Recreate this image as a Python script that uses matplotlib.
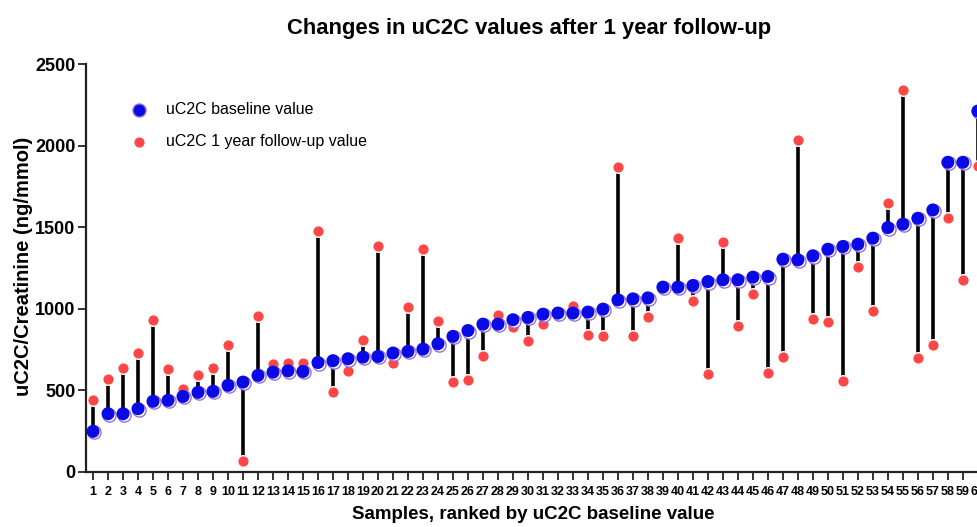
import numpy as np
import matplotlib
matplotlib.use("Agg")
import matplotlib.pyplot as plt
import matplotlib.transforms as mtransforms

plt.rcParams["font.family"] = ["Liberation Sans", "DejaVu Sans"]

# samples ranked by baseline value (1..60)
samples = np.arange(1, 61)
baseline = [
    249, 357, 357, 388, 433, 439, 463, 488, 494, 531,
    551, 592, 612, 620, 616, 671, 682, 694, 704, 708,
    729, 739, 753, 786, 831, 867, 906, 906, 933, 947,
    967, 974, 974, 980, 998, 1055, 1061, 1067, 1133, 1133,
    1143, 1167, 1178, 1178, 1194, 1198, 1304, 1300, 1325, 1365,
    1382, 1396, 1433, 1498, 1519, 1555, 1606, 1898, 1898, 2212,
]
followup = [
    443, 571, 637, 729, 933, 631, 510, 596, 637, 778,
    65, 957, 663, 671, 671, 1474, 490, 616, 806, 1382,
    671, 1010, 1365, 927, 551, 565, 708, 963, 888, 804,
    906, 953, 1020, 841, 831, 1872, 835, 947, 1135, 1433,
    1049, 600, 1412, 892, 1090, 606, 704, 2035, 937, 922,
    555, 1259, 988, 1647, 2341, 698, 776, 1559, 1178, 1878,
]
y_ticks = [0, 500, 1000, 1500, 2000, 2500]

BLUE = "#0a0ae6"
RED = "#ff4747"
RING = "#9a6fd8"

fig = plt.figure(figsize=(9.77, 5.27), dpi=100)
ax = fig.add_axes([0.088, 0.1044, 0.921, 0.774])

# ── stems joining baseline and follow-up ────────────────────────────────────
ax.vlines(samples, baseline, followup, color="black", linewidth=2.6, zorder=2)

# ── markers ─────────────────────────────────────────────────────────────────
ax.scatter(samples, followup, s=70, color=RED, edgecolor="white",
           linewidth=1.0, zorder=3, clip_on=False)
shift = mtransforms.ScaledTranslation(1.0 / 100, -1.0 / 100, fig.dpi_scale_trans)
ax.scatter(samples, baseline, s=90, facecolor="white", edgecolor=RING,
           linewidth=1.0, zorder=4, clip_on=False,
           transform=ax.transData + shift)
ax.scatter(samples, baseline, s=88, color=BLUE, edgecolor="none",
           zorder=5, clip_on=False)

# ── axes styling ────────────────────────────────────────────────────────────
ax.set_xlim(0.53, 60.53)
ax.set_ylim(0, 2500)
ax.set_yticks(y_ticks)
ax.set_xticks(samples)
ax.set_xticklabels([str(s) for s in samples], fontsize=9, fontweight="bold")
for lbl in ax.get_yticklabels():
    lbl.set_fontsize(13)
    lbl.set_fontweight("bold")
ax.tick_params(axis="both", direction="out", length=6, width=1.3, color="#222222")
ax.tick_params(axis="x", pad=4)
ax.tick_params(axis="y", pad=1.5)
for side in ("top", "right"):
    ax.spines[side].set_visible(False)
for side in ("left", "bottom"):
    ax.spines[side].set_linewidth(1.6)
    ax.spines[side].set_color("#222222")

fig.text(0.542, 0.946, "Changes in uC2C values after 1 year follow-up",
         ha="center", va="center", fontsize=15.8, fontweight="bold")
fig.text(0.5455, 0.023, "Samples, ranked by uC2C baseline value",
         ha="center", va="center", fontsize=13.5, fontweight="bold")
fig.text(0.024, 0.494, "uC2C/Creatinine (ng/mmol)", rotation=90,
         ha="center", va="center", fontsize=14.5, fontweight="bold")

# ── legend ──────────────────────────────────────────────────────────────────
h1 = ax.scatter([], [], s=88, color=BLUE, edgecolor=RING, linewidth=1)
h2 = ax.scatter([], [], s=70, color=RED, edgecolor="white", linewidth=1)
ax.legend([h1, h2], ["uC2C baseline value", "uC2C 1 year follow-up value"],
          loc="upper left", bbox_to_anchor=(0.119, 0.818),
          bbox_transform=fig.transFigure, frameon=False, fontsize=11.5,
          handletextpad=0.7, labelspacing=1.05, borderaxespad=0)

fig.savefig("out.png", dpi=100)
